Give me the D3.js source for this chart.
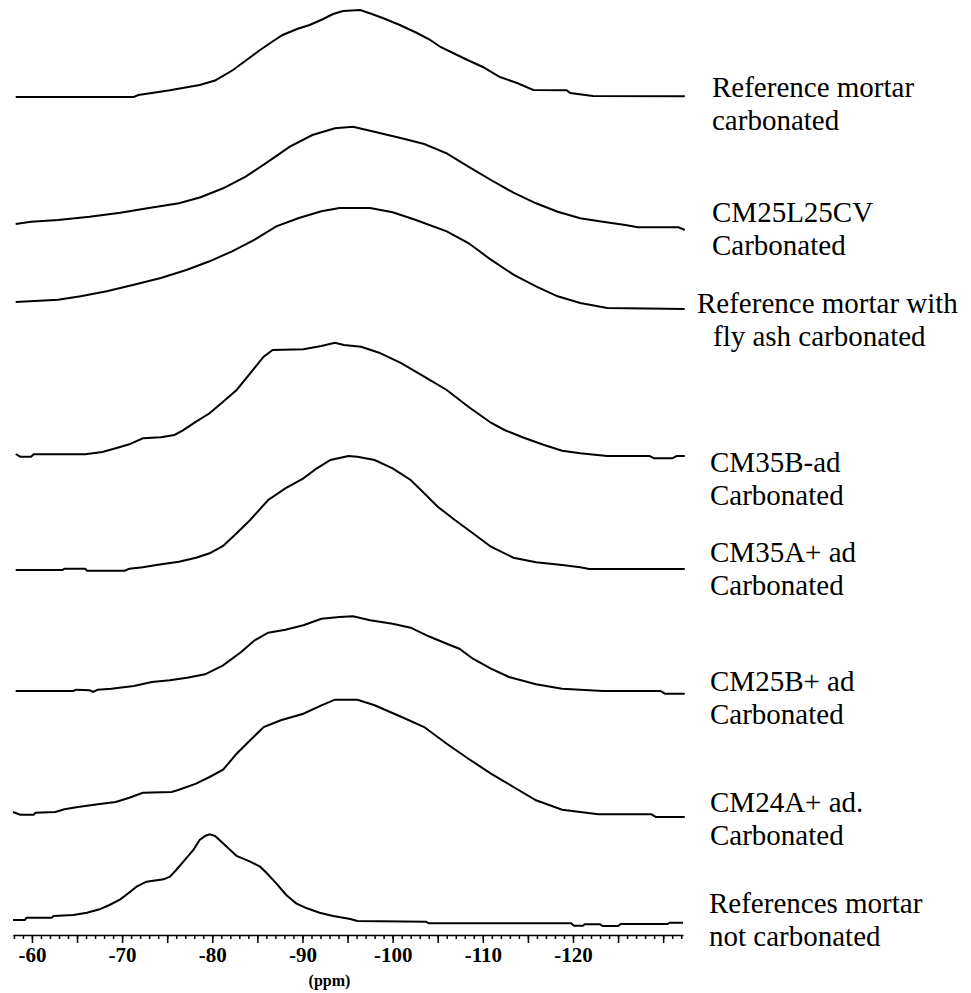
<!DOCTYPE html>
<html>
<head>
<meta charset="utf-8">
<title>29Si MAS NMR spectra of mortars</title>
<script src="https://cdnjs.cloudflare.com/ajax/libs/d3/7.8.5/d3.min.js"></script>
<style>
    body { margin: 0; background: #fff; }
    .spectrum { fill: none; stroke: #000; stroke-width: 2; stroke-linejoin: miter; }
    .label { font-family: "Liberation Serif", "Times New Roman", serif; font-size: 29px; fill: #000; }
    .axis path, .axis line { stroke: #000; stroke-width: 1.5; }
    .axis text { font-family: "Liberation Serif", "Times New Roman", serif; font-weight: bold; font-size: 21px; fill: #000; }
    .axis-title { font-family: "Liberation Serif", "Times New Roman", serif; font-weight: bold; font-size: 16px; fill: #000; }
</style>
</head>
<body>
<svg id="chart" width="971" height="993"></svg>
<script>
// spectra as [ppm, intensity (a.u.)], stacked with an offset each
const refCarb = [
    [-58.2, 0], [-71.3, 0], [-71.8, 0.2], [-73.3, 0.4], [-75.3, 0.67], [-76.7, 0.9],
    [-78.6, 1.2], [-80.3, 1.65], [-82.3, 2.7], [-83.8, 3.7], [-85.3, 4.7], [-86.6, 5.5],
    [-87.8, 6.2], [-89.4, 6.8], [-90.8, 7.2], [-92.3, 7.8], [-93.4, 8.3], [-94.5, 8.6],
    [-96.4, 8.7], [-97.7, 8.3], [-98.9, 7.9], [-100.8, 7.2], [-102.7, 6.4], [-104.1, 5.75],
    [-105.3, 5.0], [-106.7, 4.4], [-108.3, 3.7], [-110.0, 3.0], [-111.9, 2.0], [-113.8, 1.4],
    [-115.6, 0.7], [-119.3, 0.67], [-119.7, 0.4], [-122.2, 0.1], [-132.4, 0.07]
];
const cm25l25cv = [
    [-58.2, 0], [-59.9, 0.23], [-62.9, 0.4], [-66.4, 0.73], [-69.8, 1.13], [-72.8, 1.57],
    [-76.3, 2.07], [-78.7, 2.67], [-81.2, 3.57], [-83.7, 4.73], [-86.2, 6.23], [-88.6, 7.73],
    [-91.1, 8.9], [-93.6, 9.57], [-95.6, 9.73], [-97.5, 9.33], [-101.0, 8.57], [-103.5, 8.0],
    [-106.0, 7.07], [-108.4, 5.73], [-110.9, 4.4], [-113.4, 3.13], [-115.9, 2.07],
    [-118.3, 1.23], [-120.8, 0.57], [-123.3, 0.23], [-125.8, -0.1], [-127.2, -0.33],
    [-131.7, -0.33], [-132.4, -0.6]
];
const refFlyAsh = [
    [-58.2, 0], [-62.9, 0.23], [-65.4, 0.57], [-68.3, 1.07], [-71.3, 1.73], [-74.3, 2.4],
    [-77.2, 3.23], [-79.7, 4.07], [-82.2, 5.07], [-84.7, 6.23], [-87.1, 7.57], [-89.6, 8.4],
    [-92.1, 9.07], [-94.1, 9.4], [-97.5, 9.4], [-100.0, 8.97], [-102.5, 8.23], [-106.0, 7.07],
    [-108.4, 5.9], [-110.9, 4.23], [-113.4, 2.73], [-115.9, 1.57], [-118.3, 0.57],
    [-120.8, -0.1], [-123.8, -0.6], [-132.4, -0.7]
];
const cm35bAd = [
    [-58.2, 0], [-58.7, -0.27], [-59.9, -0.27], [-60.2, -0.03], [-65.9, -0.03], [-67.8, 0.2],
    [-69.3, 0.57], [-70.8, 0.97], [-72.3, 1.57], [-74.3, 1.67], [-75.8, 1.9], [-76.7, 2.33],
    [-78.2, 3.23], [-79.7, 4.07], [-81.2, 5.23], [-82.7, 6.4], [-84.2, 8.07], [-85.7, 9.73],
    [-86.7, 10.4], [-90.1, 10.47], [-92.1, 10.8], [-93.6, 11.13], [-94.6, 10.9], [-96.5, 10.73],
    [-98.5, 10.13], [-101.0, 9.07], [-103.5, 7.73], [-106.0, 6.4], [-108.4, 4.73],
    [-110.9, 3.13], [-112.4, 2.4], [-114.4, 1.67], [-116.8, 0.9], [-118.8, 0.33],
    [-120.8, 0.07], [-123.8, -0.2], [-128.5, -0.2], [-129.0, -0.43], [-131.0, -0.43],
    [-131.5, -0.2], [-132.4, -0.2]
];
const cm35aAd = [
    [-58.2, 0], [-63.4, 0], [-63.6, 0.13], [-65.9, 0.13], [-66.1, -0.07], [-70.3, -0.07],
    [-70.8, 0.13], [-72.3, 0.27], [-73.8, 0.5], [-76.3, 0.83], [-78.2, 1.23], [-79.7, 1.67],
    [-81.2, 2.4], [-82.7, 3.67], [-84.2, 5.0], [-86.2, 7.0], [-88.1, 8.17], [-90.1, 9.17],
    [-91.6, 10.17], [-93.1, 11.0], [-95.1, 11.4], [-96.1, 11.33], [-98.0, 11.0],
    [-100.0, 10.17], [-102.0, 9.0], [-103.5, 7.67], [-105.0, 6.33], [-106.9, 5.0],
    [-108.9, 3.67], [-110.9, 2.33], [-113.4, 1.23], [-115.9, 0.77], [-118.8, 0.5],
    [-120.8, 0.27], [-121.8, 0.1], [-132.4, 0.1]
];
const cm25bAd = [
    [-58.2, 0], [-64.6, 0], [-64.9, 0.13], [-66.4, 0.07], [-66.8, -0.1], [-67.3, 0.13],
    [-68.8, 0.23], [-71.3, 0.5], [-73.3, 0.9], [-75.3, 1.07], [-77.2, 1.33], [-79.2, 1.67],
    [-81.2, 2.57], [-83.2, 3.9], [-84.7, 5.07], [-86.2, 5.83], [-88.1, 6.13], [-90.1, 6.57],
    [-92.1, 7.23], [-94.1, 7.4], [-95.6, 7.47], [-97.5, 7.07], [-100.0, 6.73], [-102.0, 6.33],
    [-104.0, 5.47], [-106.0, 4.73], [-107.4, 4.23], [-108.9, 3.23], [-110.9, 2.23],
    [-112.9, 1.4], [-115.9, 0.67], [-118.8, 0.23], [-123.3, 0], [-129.7, 0],
    [-130.2, -0.27], [-132.4, -0.27]
];
const cm24aAd = [
    [-57.9, 0], [-58.7, -0.27], [-60.2, -0.27], [-60.4, -0.07], [-62.6, 0], [-63.6, 0.27],
    [-65.1, 0.5], [-67.3, 0.77], [-69.3, 1.0], [-70.8, 1.43], [-72.3, 1.93], [-75.5, 2.0],
    [-76.3, 2.23], [-78.2, 2.83], [-79.7, 3.5], [-81.2, 4.23], [-82.7, 5.83], [-84.2, 7.17],
    [-85.7, 8.5], [-87.6, 9.17], [-90.1, 9.83], [-92.1, 10.67], [-93.6, 11.23], [-96.1, 11.23],
    [-98.0, 10.67], [-101.0, 9.5], [-103.5, 8.5], [-106.0, 6.83], [-108.4, 5.33],
    [-110.9, 3.83], [-113.4, 2.5], [-115.9, 1.17], [-118.8, 0.23], [-120.8, 0],
    [-122.8, -0.23], [-128.7, -0.23], [-129.2, -0.5], [-132.4, -0.5]
];
const refNotCarb = [
    [-57.9, 0], [-59.2, 0], [-59.4, 0.23], [-62.2, 0.23], [-62.4, 0.4], [-64.6, 0.5],
    [-66.1, 0.73], [-67.5, 1.07], [-68.6, 1.5], [-69.8, 2.07], [-70.9, 2.83], [-71.6, 3.33],
    [-72.7, 3.83], [-74.6, 4.07], [-75.3, 4.33], [-76.0, 5.0], [-77.1, 6.17], [-77.9, 7.0],
    [-78.6, 8.0], [-79.2, 8.4], [-79.7, 8.57], [-80.3, 8.4], [-80.8, 8.0], [-81.6, 7.33],
    [-82.7, 6.4], [-84.2, 5.83], [-85.3, 5.33], [-86.0, 4.73], [-87.1, 3.67], [-88.2, 2.5],
    [-89.3, 1.67], [-90.5, 1.17], [-91.9, 0.73], [-93.4, 0.4], [-95.3, 0.1], [-96.1, -0.1],
    [-103.7, -0.17], [-104.0, -0.33], [-119.8, -0.33], [-120.1, -0.57], [-121.1, -0.57],
    [-121.3, -0.43], [-123.0, -0.43], [-123.3, -0.6], [-125.0, -0.6], [-125.3, -0.4],
    [-130.5, -0.4], [-130.7, -0.27], [-132.2, -0.27]
];

const spectra = [refCarb, cm25l25cv, refFlyAsh, cm35bAd, cm35aAd, cm25bAd, cm24aAd, refNotCarb];
const offsets = [83.8, 71.1, 63.3, 48.1, 36.5, 24.4, 12.3, 1.5];
const labels = [
    ['Reference mortar', 'carbonated'],
    ['CM25L25CV', 'Carbonated'],
    ['Reference mortar with', 'fly ash carbonated'],
    ['CM35B-ad', 'Carbonated'],
    ['CM35A+ ad', 'Carbonated'],
    ['CM25B+ ad', 'Carbonated'],
    ['CM24A+ ad.', 'Carbonated'],
    ['References mortar', 'not carbonated']
];
const tickLabels = [-60, -70, -80, -90, -100, -110, -120];
const axisTitle = '(ppm)';

// layout
const axisY = 935;
const svg = d3.select('#chart');

const x = d3.scaleLinear()
    .domain([-57.9, -132.2])
    .range([13, 683]);

const y = d3.scaleLinear()
    .domain([0, 93.5])
    .range([axisY, 0]);

const line = d3.line()
    .x(d => x(d[0]))
    .y(d => y(d[1]));

// draw the stacked spectra
svg.selectAll('.spectrum')
    .data(spectra)
    .enter()
    .append('path')
    .attr('class', 'spectrum')
    .attr('d', (d, i) => line(d.map(p => [p[0], p[1] + offsets[i]])));

// labels next to the right end of each trace
const labelX = [[712, 712], [712, 712], [697, 713], [710, 710], [710, 710], [710, 710], [710, 710], [709, 709]];
const labelDy = [1, -8, 4, 16, -7, -3, -5, -10];
const lineGap = 33;

const labelText = svg.selectAll('.label')
    .data(labels)
    .enter()
    .append('text')
    .attr('class', 'label')
    .attr('y', (d, i) => {
        const s = spectra[i];
        return y(s[s.length - 1][1] + offsets[i]) + labelDy[i];
    });

labelText.each(function(d, i) {
    d3.select(this).selectAll('tspan')
        .data(d)
        .enter()
        .append('tspan')
        .attr('x', (t, j) => labelX[i][j])
        .attr('dy', (t, j) => j === 0 ? 0 : lineGap)
        .text(t => t);
});

// axis: minor ticks every 1 ppm, medium every 5, labels every 10
const axisG = svg.append('g')
    .attr('class', 'axis')
    .attr('transform', `translate(0,${axisY})`);

axisG.append('g')
    .call(d3.axisBottom(x)
        .tickValues(d3.range(-58, -133, -1))
        .tickSize(4)
        .tickSizeOuter(0)
        .tickFormat(''));

axisG.append('g')
    .call(d3.axisBottom(x)
        .tickValues(d3.range(-60, -131, -5))
        .tickSize(8)
        .tickSizeOuter(0)
        .tickFormat(''))
    .call(g => g.select('.domain').remove());

axisG.append('g')
    .call(d3.axisBottom(x)
        .tickValues(tickLabels)
        .tickSize(0)
        .tickPadding(12)
        .tickFormat(d => String(d)))
    .call(g => g.select('.domain').remove());

svg.append('text')
    .attr('class', 'axis-title')
    .attr('x', x(-93))
    .attr('y', 986)
    .attr('text-anchor', 'middle')
    .text(axisTitle);
</script>
</body>
</html>
